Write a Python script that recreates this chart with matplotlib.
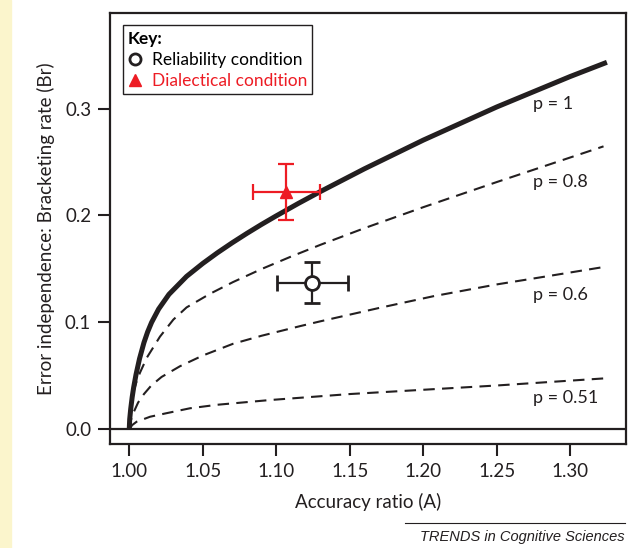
import matplotlib.pyplot as plt
from matplotlib.lines import Line2D
from matplotlib.patches import Rectangle

plt.rcParams['font.family'] = ['Lato', 'DejaVu Sans']

# curves (accuracy ratio A, bracketing rate Br)
p1_x = [1.000, 1.0003, 1.001, 1.002, 1.003, 1.0046, 1.007, 1.010, 1.0125,
        1.0152, 1.020, 1.027, 1.039, 1.050, 1.060, 1.070, 1.080, 1.090,
        1.100, 1.115, 1.130, 1.160, 1.200, 1.250, 1.300, 1.325]
p1_y = [0.000, 0.0094, 0.0192, 0.0302, 0.0392, 0.0512, 0.0661, 0.0811, 0.0911,
        0.100, 0.1125, 0.1262, 0.143, 0.1551, 0.1651, 0.1744, 0.1832, 0.1916,
        0.1996, 0.2112, 0.2223, 0.2436, 0.2704, 0.3014, 0.3299, 0.3432]

p08_x = [1.000, 1.0005, 1.0015, 1.003, 1.005, 1.0073, 1.012, 1.0209, 1.030,
         1.039, 1.055, 1.0706, 1.090, 1.110, 1.130, 1.160, 1.200, 1.250,
         1.3227]
p08_y = [0.000, 0.0177, 0.0267, 0.0357, 0.0447, 0.053, 0.0671, 0.0867, 0.1026,
         0.114, 0.1268, 0.1377, 0.1499, 0.1615, 0.1725, 0.1881, 0.2077, 0.2312,
         0.2646]

p06_x = [1.000, 1.001, 1.003, 1.006, 1.010, 1.015, 1.022, 1.0345, 1.050,
         1.0706, 1.090, 1.1162, 1.130, 1.170, 1.207, 1.250, 1.2748, 1.3238]
p06_y = [0.000, 0.008, 0.016, 0.025, 0.033, 0.041, 0.049, 0.059, 0.069,
         0.080, 0.0875, 0.0965, 0.101, 0.1135, 0.1245, 0.1355, 0.141, 0.152]

p051_x = [1.000, 1.002, 1.005, 1.0142, 1.025, 1.0413, 1.060, 1.0957, 1.150,
          1.200, 1.250, 1.3238]
p051_y = [0.000, 0.004, 0.0071, 0.0118, 0.015, 0.0197, 0.023, 0.0274, 0.033,
          0.037, 0.041, 0.0477]

curve_labels = ['p = 1', 'p = 0.8', 'p = 0.6', 'p = 0.51']
label_y = [0.304, 0.231, 0.126, 0.029]

# experimental conditions
rel_x, rel_y, rel_xerr, rel_yerr = 1.1246, 0.1373, 0.0242, 0.0194
dia_x, dia_y, dia_xerr, dia_yerr = 1.1067, 0.2220, 0.0228, 0.0260

xticks = [1.00, 1.05, 1.10, 1.15, 1.20, 1.25, 1.30]
yticks = [0.0, 0.1, 0.2, 0.3]

red = '#ED1C24'
ink = '#231F20'

fig = plt.figure(figsize=(6.34, 5.48), dpi=100)
fig.patches.append(Rectangle((0, 0), 11 / 634, 1, transform=fig.transFigure,
                             color='#FBF5CC', zorder=0))
ax = fig.add_axes([0.1735, 0.1892, 0.8139, 0.7865])

ax.axhline(0, color=ink, lw=1.6, zorder=1)
ax.plot(p1_x, p1_y, color=ink, lw=3.6, solid_capstyle='butt',
        solid_joinstyle='round', zorder=2)
dash = (0, (5.5, 3.5))
ax.plot(p08_x, p08_y, color=ink, lw=1.5, linestyle=dash, zorder=2)
ax.plot(p06_x, p06_y, color=ink, lw=1.5, linestyle=dash, zorder=2)
ax.plot(p051_x, p051_y, color=ink, lw=1.5, linestyle=dash, zorder=2)

for lab, yy in zip(curve_labels, label_y):
    ax.text(1.2748, yy, lab, fontsize=13, color=ink, va='center', ha='left')

ax.errorbar(rel_x, rel_y, xerr=rel_xerr, yerr=rel_yerr, fmt='o', ms=10,
            mfc='white', mec=ink, mew=2, ecolor=ink, elinewidth=1.6,
            capsize=6, capthick=1.6, zorder=5)
ax.errorbar(dia_x, dia_y, xerr=dia_xerr, yerr=dia_yerr, fmt='^', ms=9,
            mfc=red, mec=red, ecolor=red, elinewidth=1.6,
            capsize=6, capthick=1.6, zorder=5)

ax.set_xlim(0.9869, 1.338)
ax.set_ylim(-0.014, 0.389)
ax.set_xticks(xticks)
ax.set_xticklabels(['%.2f' % v for v in xticks])
ax.set_yticks(yticks)
ax.set_yticklabels(['%.1f' % v for v in yticks])
ax.tick_params(direction='out', length=8.5, width=1.5, labelsize=13.5,
               colors=ink, pad=5)
for s in ax.spines.values():
    s.set_linewidth(1.6)
    s.set_color(ink)

ax.set_xlabel('Accuracy ratio (A)', fontsize=13.5, color=ink, labelpad=9)
ax.set_ylabel('Error independence: Bracketing rate (Br)', fontsize=13.5,
              color=ink, labelpad=7)

handles = [Line2D([], [], ls='none', marker='o', ms=8, mfc='white',
                  mec=ink, mew=2),
           Line2D([], [], ls='none', marker='^', ms=9, mfc=red, mec=red)]
leg = ax.legend(handles, ['Reliability condition', 'Dialectical condition'],
                loc='upper left', bbox_to_anchor=(0.025, 0.972), title='Key:',
                alignment='left', fancybox=False, framealpha=1,
                edgecolor=ink, fontsize=12.5, handlelength=0.8,
                handletextpad=0.55, borderpad=0.3, labelspacing=0.3,
                borderaxespad=0)
leg.get_title().set_fontweight('bold')
leg.get_title().set_fontsize(12.5)
leg.get_frame().set_linewidth(1.0)
leg.get_texts()[1].set_color(red)

fig.add_artist(Line2D([405 / 634, 625 / 634], [1 - 523 / 548, 1 - 523 / 548],
                      color=ink, lw=0.8))
fig.text(625 / 634, 1 - 541 / 548, 'TRENDS in Cognitive Sciences',
         family='Liberation Sans', style='italic', fontsize=10.5,
         ha='right', va='baseline', color=ink)

fig.savefig('out.png', dpi=100)
